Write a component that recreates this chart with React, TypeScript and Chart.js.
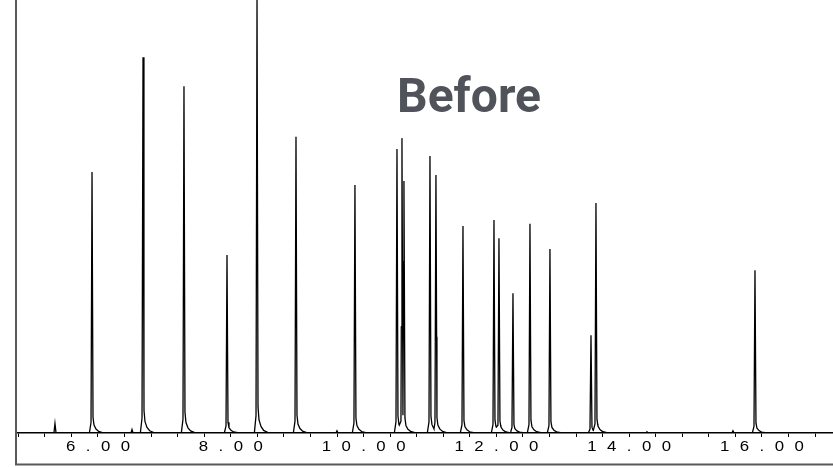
import { useEffect, useRef } from "react";
import { Chart, registerables } from "chart.js";

Chart.register(...registerables);

// Retention times (min) and relative peak heights (% of full scale)
const RETENTION_MIN = [
  5.352, 5.91, 6.512, 6.678, 7.295, 7.943, 8.395, 8.982, 9.599, 9.87,
  10.503, 10.578, 10.608, 11.0, 11.09, 11.497, 11.964, 12.039, 12.25,
  12.506, 12.807, 13.425, 13.5, 14.268, 15.563, 15.895,
];
const PEAK_HEIGHT = [
  2.2, 60.3, 0.8, 86.8, 80.1, 41.1, 100.5, 68.4, 0.5, 57.3,
  65.6, 68.1, 58.2, 64.0, 59.6, 47.8, 49.2, 45.0, 32.3,
  48.3, 42.5, 22.6, 53.1, 0.3, 0.5, 37.6,
];

const TIME_MIN = 4.765;
const TIME_MAX = 17.07;
const TICK_LABELS = [6, 8, 10, 12, 14, 16];
const TITLE = "Before";

// Narrow, slightly tailing peak profile (offset in min, fraction of apex)
const SHAPE_OFFSET = [-0.04, -0.015, 0, 0.015, 0.03, 0.06, 0.1, 0.18];
const SHAPE_LEVEL = [0, 0.04, 1, 0.06, 0.03, 0.015, 0.006, 0];

function profileAt(d: number): number {
  const n = SHAPE_OFFSET.length;
  if (d <= SHAPE_OFFSET[0] || d >= SHAPE_OFFSET[n - 1]) return 0;
  for (let k = 0; k < n - 1; k++) {
    const a = SHAPE_OFFSET[k];
    const b = SHAPE_OFFSET[k + 1];
    if (d >= a && d <= b) {
      const f = (d - a) / (b - a);
      return SHAPE_LEVEL[k] + f * (SHAPE_LEVEL[k + 1] - SHAPE_LEVEL[k]);
    }
  }
  return 0;
}

function buildTrace() {
  const xs = new Set<number>([TIME_MIN, TIME_MAX]);
  RETENTION_MIN.forEach((rt) =>
    SHAPE_OFFSET.forEach((o) => xs.add(+(rt + o).toFixed(4)))
  );
  const sorted = Array.from(xs)
    .filter((x) => x >= TIME_MIN && x <= TIME_MAX)
    .sort((a, b) => a - b);
  return sorted.map((x) => {
    let y = 0;
    RETENTION_MIN.forEach((rt, i) => {
      y = Math.max(y, profileAt(x - rt) * PEAK_HEIGHT[i]);
    });
    return { x, y };
  });
}

const framePlugin = {
  id: "frameAndLabels",
  afterDraw(chart: any) {
    const { ctx, chartArea } = chart;
    const xScale = chart.scales.x;

    // wide, spaced-out time labels under the axis
    const stretch = 1.2;
    const spacing = 8.7;
    TICK_LABELS.forEach((v) => {
      ctx.save();
      ctx.fillStyle = "#000";
      ctx.font = "14px 'Liberation Sans', Arial, sans-serif";
      ctx.textBaseline = "middle";
      ctx.textAlign = "left";
      (ctx as any).letterSpacing = spacing + "px";
      const text = v.toFixed(2);
      const w = (ctx.measureText(text).width - spacing) * stretch;
      const px = xScale.getPixelForValue(v);
      ctx.translate(px - w / 2, chartArea.bottom + 14);
      ctx.scale(stretch, 1);
      ctx.fillText(text, 0, 0);
      ctx.restore();
    });

    // title
    ctx.save();
    ctx.fillStyle = "#505359";
    ctx.font = "bold 48px Roboto, 'Noto Sans', sans-serif";
    ctx.textAlign = "center";
    ctx.textBaseline = "alphabetic";
    ctx.fillText(TITLE, 469, 112);
    ctx.restore();

    // grey frame on left and bottom
    ctx.save();
    ctx.strokeStyle = "#58595b";
    ctx.lineWidth = 2;
    ctx.beginPath();
    ctx.moveTo(16, 0);
    ctx.lineTo(16, 464.5);
    ctx.lineTo(chart.width, 464.5);
    ctx.stroke();
    ctx.restore();
  },
};

export default function App() {
  const canvasRef = useRef<HTMLCanvasElement | null>(null);

  useEffect(() => {
    const canvas = canvasRef.current;
    if (!canvas) return;
    const chart = new Chart(canvas, {
      type: "line",
      data: {
        datasets: [
          {
            data: buildTrace(),
            borderColor: "#000",
            borderWidth: 1.3,
            pointRadius: 0,
            tension: 0,
            fill: false,
          },
        ],
      },
      options: {
        responsive: false,
        animation: false,
        devicePixelRatio: 1,
        layout: { padding: { left: 16, right: 0, top: 0, bottom: 0 } },
        plugins: { legend: { display: false }, tooltip: { enabled: false } },
        scales: {
          x: {
            type: "linear",
            min: TIME_MIN,
            max: TIME_MAX,
            border: { display: true, color: "#000", width: 1.5 },
            grid: {
              display: true,
              drawOnChartArea: false,
              drawTicks: true,
              tickLength: 4,
              color: "#000",
              lineWidth: 1,
            },
            ticks: { display: false, stepSize: 0.4, includeBounds: false, autoSkip: false },
            afterFit: (s: any) => {
              s.height = 35;
            },
          },
          y: { display: false, min: 0, max: 100 },
        },
      } as any,
      plugins: [framePlugin],
    });
    return () => chart.destroy();
  }, []);

  return (
    <div style={{ position: "fixed", left: 0, top: 0, width: 833, height: 468, background: "#fff" }}>
      <canvas ref={canvasRef} width={833} height={468} style={{ display: "block" }} />
    </div>
  );
}
